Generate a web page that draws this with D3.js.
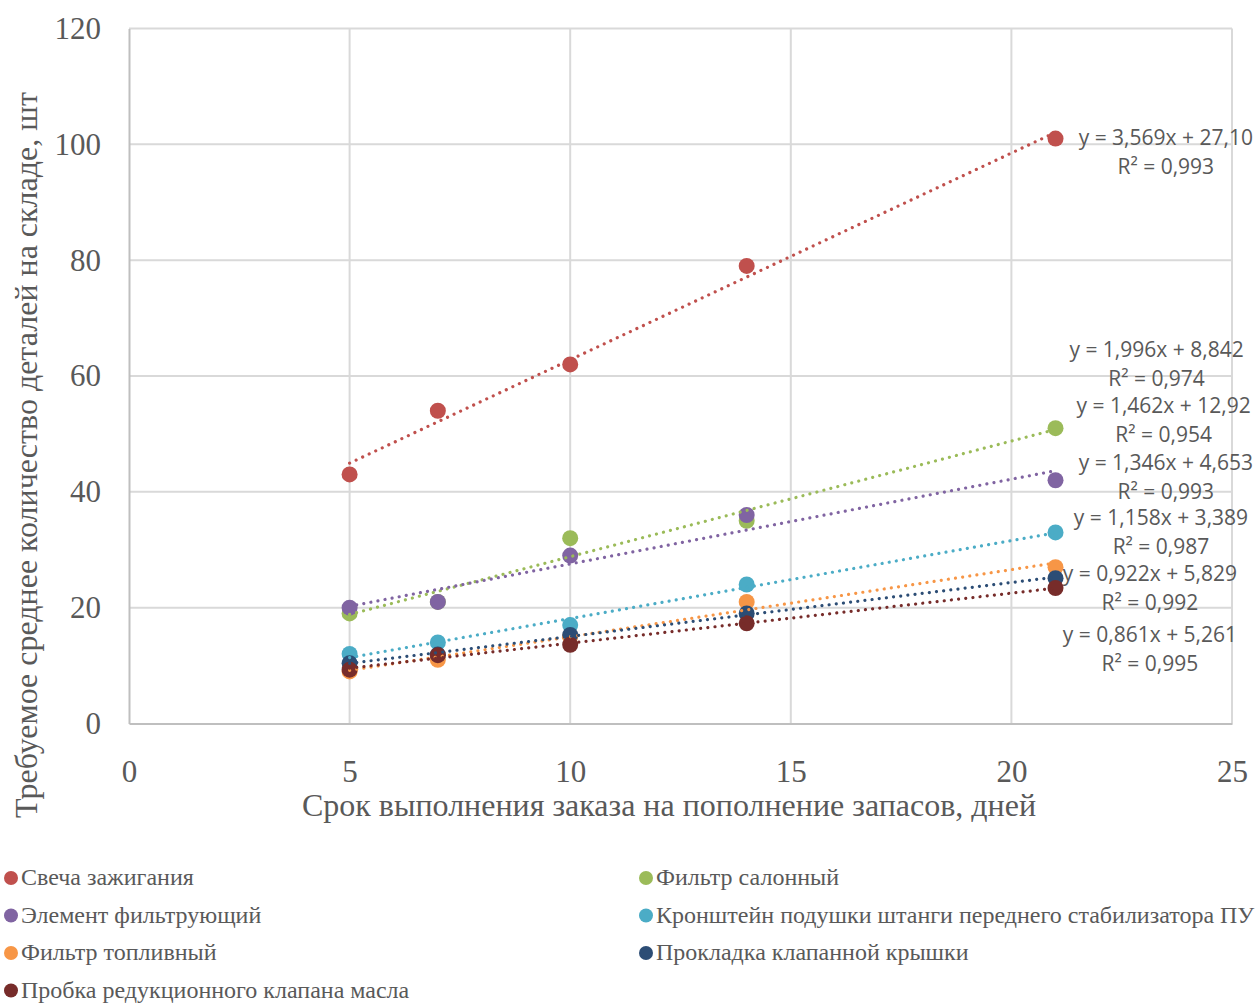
<!DOCTYPE html>
<meta charset="utf-8">
<script src="https://cdn.jsdelivr.net/npm/d3@7"></script>
<style>
  body { margin: 0; background: #fff; }
  text { fill: #595959; }
</style>
<div id="js_chart"></div>
<script>
// ---- data ----
const days = [5, 7, 10, 14, 21];
const seriesNames = [
    "Свеча зажигания",
    "Фильтр салонный",
    "Элемент фильтрующий",
    "Кронштейн подушки штанги переднего стабилизатора ПУ",
    "Фильтр топливный",
    "Прокладка клапанной крышки",
    "Пробка редукционного клапана масла"
];
const svecha    = [43, 54, 62, 79, 101];
const filtrSal  = [19, 21, 32, 35, 51];
const element   = [20, 21, 29, 36, 42];
const kronshtein = [12, 14, 17, 24, 33];
const filtrTopl = [9, 11, 15, 21, 27];
const prokladka = [10.4, 11.9, 15.3, 19.0, 25.1];
const probka    = [9.3, 11.8, 13.6, 17.3, 23.4];
const seriesValues = [svecha, filtrSal, element, kronshtein, filtrTopl, prokladka, probka];

const eqLabels = ["y = 3,569x + 27,10", "y = 1,996x + 8,842", "y = 1,462x + 12,92",
    "y = 1,346x + 4,653", "y = 1,158x + 3,389", "y = 0,922x + 5,829", "y = 0,861x + 5,261"];
const r2Labels = ["R² = 0,993", "R² = 0,974", "R² = 0,954", "R² = 0,993",
    "R² = 0,987", "R² = 0,992", "R² = 0,995"];

const xTicks = [0, 5, 10, 15, 20, 25];
const yTicks = [0, 20, 40, 60, 80, 100, 120];
const xTitle = "Срок выполнения заказа на пополнение запасов, дней";
const yTitle = "Требуемое среднее количество деталей на складе, шт";

// ---- layout / style ----
const colors = ["#C0504D", "#9BBB59", "#8064A2", "#4BACC6", "#F79646", "#2C4D75", "#772C2A"];
// where Excel put each trendline label, in data units (x centre, y baseline)
const labelAnchor = [[23.50, 99.9], [23.29, 63.3], [23.45, 53.6], [23.50, 43.8],
    [23.39, 34.3], [23.14, 24.6], [23.14, 14.1]];

const width = 1256, height = 1004;
const plot = {left: 129, right: 1232, top: 28.5, bottom: 723.5};
const serif = "'Liberation Serif', 'Times New Roman', serif";

const x = d3.scaleLinear().domain([0, 25]).range([plot.left, plot.right]);
const y = d3.scaleLinear().domain([0, 120]).range([plot.bottom, plot.top]);

const svg = d3.select("#js_chart").append("svg")
    .attr("width", width)
    .attr("height", height);

// grid
svg.append("g").selectAll("line").data(yTicks.filter(d => d > 0)).enter()
    .append("line")
    .attr("x1", plot.left).attr("x2", plot.right)
    .attr("y1", d => y(d)).attr("y2", d => y(d))
    .attr("stroke", "#D9D9D9").attr("stroke-width", 2);
svg.append("g").selectAll("line").data(xTicks.filter(d => d > 0)).enter()
    .append("line")
    .attr("y1", plot.top).attr("y2", plot.bottom)
    .attr("x1", d => x(d)).attr("x2", d => x(d))
    .attr("stroke", "#D9D9D9").attr("stroke-width", 2);

// axes
const xAxis = svg.append("g")
    .attr("transform", "translate(0," + plot.bottom + ")")
    .call(d3.axisBottom(x).tickValues(xTicks).tickSize(0).tickPadding(36));
const yAxis = svg.append("g")
    .attr("transform", "translate(" + plot.left + ",0)")
    .call(d3.axisLeft(y).tickValues(yTicks).tickSize(0).tickPadding(28));
[xAxis, yAxis].forEach(function (ax) {
    ax.select(".domain").attr("stroke", "#BFBFBF").attr("stroke-width", 2);
    ax.selectAll("text")
        .attr("fill", "#595959")
        .style("font-family", serif)
        .style("font-size", "31px");
});

svg.append("text")
    .attr("x", 669).attr("y", 816)
    .attr("text-anchor", "middle")
    .style("font-family", serif)
    .style("font-size", "32px")
    .text(xTitle);

svg.append("text")
    .attr("transform", "translate(37,455) rotate(-90)")
    .attr("text-anchor", "middle")
    .style("font-family", serif)
    .style("font-size", "32px")
    .text(yTitle);

// markers
seriesValues.forEach(function (vals, i) {
    svg.append("g").selectAll("circle").data(vals).enter()
        .append("circle")
        .attr("cx", (d, j) => x(days[j]))
        .attr("cy", d => y(d))
        .attr("r", 8)
        .attr("fill", colors[i]);
});

// linear trendlines (least squares over the points)
function fit(xs, ys) {
    const mx = d3.mean(xs), my = d3.mean(ys);
    const b = d3.sum(xs, (v, k) => (v - mx) * (ys[k] - my)) / d3.sum(xs, v => (v - mx) * (v - mx));
    return {b: b, a: my - b * mx};
}
const x0 = d3.min(days), x1 = d3.max(days);
seriesValues.forEach(function (vals, i) {
    const f = fit(days, vals);
    svg.append("line")
        .attr("x1", x(x0)).attr("y1", y(f.a + f.b * x0))
        .attr("x2", x(x1)).attr("y2", y(f.a + f.b * x1))
        .attr("stroke", colors[i])
        .attr("stroke-width", 3.2)
        .attr("stroke-linecap", "round")
        .attr("stroke-dasharray", "0.01 7.2");
});

// trendline labels
const lab = svg.append("g")
    .style("font-family", "'Open Sans', sans-serif")
    .style("font-size", "21px")
    .attr("text-anchor", "middle");
labelAnchor.forEach(function (p, i) {
    lab.append("text").attr("x", x(p[0])).attr("y", y(p[1])).text(eqLabels[i]);
    lab.append("text").attr("x", x(p[0])).attr("y", y(p[1]) + 29).text(r2Labels[i]);
});

// legend, two columns
const legend = svg.append("g")
    .style("font-family", serif)
    .style("font-size", "24px");
seriesNames.forEach(function (name, i) {
    const cx = i % 2 === 0 ? 11 : 646;
    const cy = 878 + Math.floor(i / 2) * 37.5;
    legend.append("circle").attr("cx", cx).attr("cy", cy).attr("r", 7).attr("fill", colors[i]);
    legend.append("text").attr("x", cx + 10).attr("y", cy + 7).text(name);
});
</script>
